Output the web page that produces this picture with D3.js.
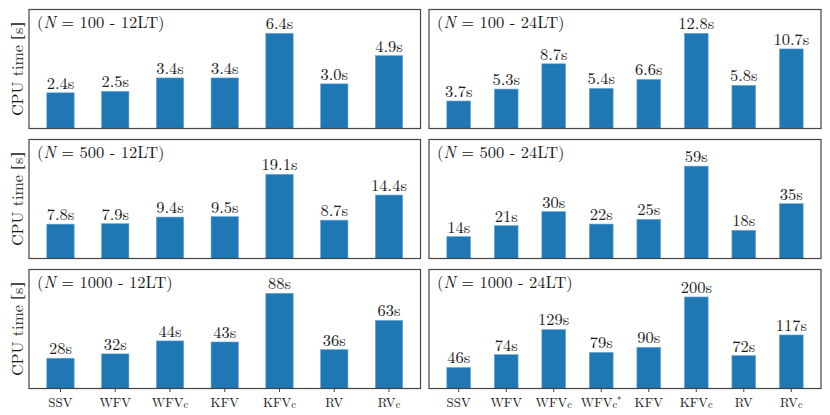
<!DOCTYPE html>
<html>
<head>
<meta charset="utf-8">
<script src="https://cdn.jsdelivr.net/npm/d3@7"></script>
<style>
  html, body { margin: 0; padding: 0; background: #fff; }
  svg { display: block; }
</style>
</head>
<body>
<svg id="chart" width="830" height="415"></svg>
<script>
// ---- data ----
const cats12 = ["SSV", "WFV", "WFVc", "KFV", "KFVc", "RV", "RVc"];
const cats24 = ["SSV", "WFV", "WFVc", "WFVc*", "KFV", "KFVc", "RV", "RVc"];

const n100_12LT = [2.4, 2.5, 3.4, 3.4, 6.4, 3.0, 4.9];
const n100_24LT = [3.7, 5.3, 8.7, 5.4, 6.6, 12.8, 5.8, 10.7];
const n500_12LT = [7.8, 7.9, 9.4, 9.5, 19.1, 8.7, 14.4];
const n500_24LT = [14, 21, 30, 22, 25, 59, 18, 35];
const n1000_12LT = [28, 32, 44, 43, 88, 36, 63];
const n1000_24LT = [46, 74, 129, 79, 90, 200, 72, 117];

const panelN = ["100", "100", "500", "500", "1000", "1000"];
const panelLT = ["12LT", "24LT", "12LT", "24LT", "12LT", "24LT"];
const panelDecimals = [1, 1, 1, 0, 0, 0];
const panelYMax = [8, 16, 27, 76, 110, 260];

const panelValues = [n100_12LT, n100_24LT, n500_12LT, n500_24LT, n1000_12LT, n1000_24LT];
const panelCats = [cats12, cats24, cats12, cats24, cats12, cats24];

// ---- layout ----
const FONT = "Latin Modern Roman, Liberation Serif, serif";
const TEXT_COLOR = "#1a1a1a";
const svg = d3.select("#chart");
const colX = [29, 429];
const colW = [391.5, 392];
const rowY = [9.5, 139.5, 269.5];
const rowH = 119;

const barColor = "#1f77b4";
const frameColor = "#444";

panelValues.forEach((vals, i) => {
  const col = i % 2, row = Math.floor(i / 2);
  const cats = panelCats[i];
  const g = svg.append("g").attr("transform", `translate(${colX[col]},${rowY[row]})`);
  const w = colW[col], h = rowH;

  const x = d3.scaleBand()
    .domain(cats)
    .range([0, w])
    .paddingInner(0.5)
    .paddingOuter(cats.length === 7 ? 0.325 : 0.375);
  const y = d3.scaleLinear().domain([0, panelYMax[i]]).range([h, 0]);

  // bars
  g.selectAll("rect.bar")
    .data(vals)
    .join("rect")
    .attr("class", "bar")
    .attr("x", (d, j) => x(cats[j]))
    .attr("y", d => y(d))
    .attr("width", x.bandwidth())
    .attr("height", d => y(0) - y(d))
    .attr("fill", barColor)
    .attr("stroke", "#6fa8d6")
    .attr("stroke-width", 0.6);

  // value labels
  const fmt = panelDecimals[i] === 1 ? d3.format(".1f") : d3.format(".0f");
  g.selectAll("text.val")
    .data(vals)
    .join("text")
    .attr("class", "val")
    .attr("x", (d, j) => x(cats[j]) + x.bandwidth() / 2)
    .attr("y", d => y(d) - 4)
    .attr("text-anchor", "middle")
    .attr("font-family", FONT)
    .attr("font-size", 16.5)
    .attr("fill", TEXT_COLOR)
    .text(d => fmt(d) + "s");

  // frame
  g.append("rect")
    .attr("x", 0).attr("y", 0).attr("width", w).attr("height", h)
    .attr("fill", "none")
    .attr("stroke", frameColor)
    .attr("stroke-width", 1.2);

  // panel title
  const t = g.append("text")
    .attr("x", 8).attr("y", 18.5)
    .attr("font-family", FONT)
    .attr("font-size", 16.5)
    .attr("fill", TEXT_COLOR)
    .attr("xml:space", "preserve");
  t.append("tspan").text("(");
  t.append("tspan").attr("font-style", "italic").text("N");
  t.append("tspan").text(" = " + panelN[i] + " - " + panelLT[i] + ")");

  // y label on left column
  if (col === 0) {
    const yl = svg.append("text")
      .attr("transform", `translate(${colX[0] - 6},${rowY[row] + h / 2}) rotate(-90)`)
      .attr("text-anchor", "middle")
      .attr("font-family", FONT)
      .attr("font-size", 16)
      .attr("fill", TEXT_COLOR)
      .attr("xml:space", "preserve");
    yl.append("tspan").text("CPU time ");
    yl.append("tspan").attr("font-family", "Liberation Serif").attr("font-size", 17).text("[");
    yl.append("tspan").text("s");
    yl.append("tspan").attr("font-family", "Liberation Serif").attr("font-size", 17).text("]");
  }

  // x axis on bottom row
  if (row === 2) {
    const ax = g.append("g").attr("transform", `translate(0,${h})`)
      .call(d3.axisBottom(x).tickSize(3.5).tickSizeOuter(0).tickFormat(""));
    ax.select(".domain").remove();
    ax.selectAll(".tick line").attr("stroke", frameColor).attr("stroke-width", 1);
    ax.selectAll(".tick").each(function (c) {
      const tx = d3.select(this).append("text")
        .attr("y", 18)
        .attr("text-anchor", "middle")
        .attr("font-family", FONT)
        .attr("font-size", 13)
        .attr("fill", TEXT_COLOR);
      const m = c.match(/^([A-Z]+)(c?)(\*?)$/);
      tx.append("tspan").text(m[1]);
      if (m[2]) tx.append("tspan").attr("font-size", 10.5).attr("dy", 1).text("c");
      if (m[3]) tx.append("tspan").attr("font-size", 9).attr("dy", -5).text("*");
    });
  }
});
</script>
</body>
</html>
